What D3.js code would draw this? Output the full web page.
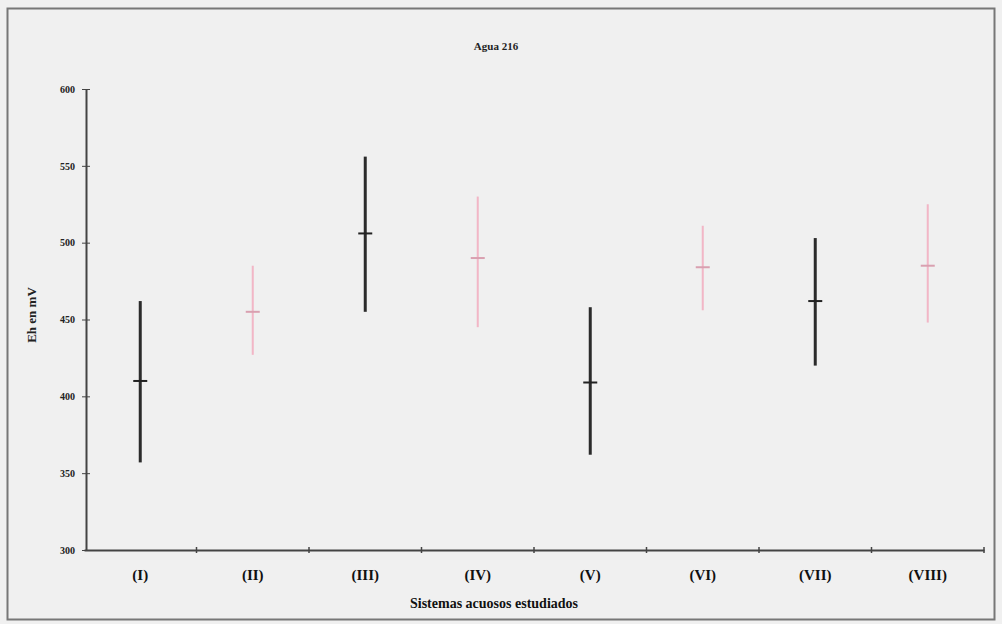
<!DOCTYPE html>
<html>
<head>
<meta charset="utf-8">
<script src="https://cdn.jsdelivr.net/npm/d3@7"></script>
<style>
  body { margin: 0; background: #f0f0f0; }
  svg text { font-family: "Liberation Serif", "DejaVu Serif", serif; }
</style>
</head>
<body>
<div id="content"></div>
<script>
// systems studied -> mean and range of Eh (mV)
var categories = ["(I)", "(II)", "(III)", "(IV)", "(V)", "(VI)", "(VII)", "(VIII)"];
var means = [410, 455, 506, 490, 409, 484, 462, 485];
var lows  = [357, 427, 455, 445, 362, 456, 420, 448];
var highs = [462, 485, 556, 530, 458, 511, 503, 525];
var series = ["a", "b", "a", "b", "a", "b", "a", "b"];
var yTicks = [300, 350, 400, 450, 500, 550, 600];

var titleText = "Agua 216";
var xTitle = "Sistemas acuosos estudiados";
var yTitle = "Eh en mV";

var W = 1002, H = 624;
var margin = {top: 89, right: 18, bottom: 74, left: 84};

var colors = {a: "#2b2b2b", b: "#f2b6c6"};
var widths = {a: 3, b: 2};

var data = categories.map(function(c, i) {
	return {cat: c, mean: means[i], low: lows[i], high: highs[i], s: series[i]};
});

var svg = d3.select("#content").append("svg")
	.attr("width", W).attr("height", H);

svg.append("rect")
	.attr("x", 0).attr("y", 0).attr("width", W).attr("height", H)
	.attr("fill", "#f0f0f0");

// outer frame
svg.append("rect")
	.attr("x", 7.5).attr("y", 8.5).attr("width", 987).attr("height", 611)
	.attr("fill", "none").attr("stroke", "#777").attr("stroke-width", 2);

var x = d3.scaleBand().domain(categories)
	.range([margin.left, W - margin.right]);
var y = d3.scaleLinear().domain([300, 600])
	.range([H - margin.bottom, margin.top]);

// y axis
var yAxis = d3.axisLeft(y).tickValues(yTicks).tickSize(4).tickSizeOuter(0)
	.tickFormat(d3.format("d"));
var gy = svg.append("g")
	.attr("transform", "translate(" + (margin.left + 2) + ",0)")
	.call(yAxis);
gy.select(".domain").attr("stroke", "#444").attr("stroke-width", 2);
gy.selectAll(".tick line").attr("stroke", "#444").attr("x2", 4).attr("x1", -4);
gy.selectAll(".tick text")
	.attr("x", -11)
	.style("font-size", "10px").style("font-weight", "bold").attr("fill", "#222");

// x axis
var xAxis = d3.axisBottom(x).tickSize(0).tickSizeOuter(0);
var gx = svg.append("g")
	.attr("transform", "translate(0," + (H - margin.bottom) + ")")
	.call(xAxis);
gx.select(".domain").attr("stroke", "#444").attr("stroke-width", 2);
gx.selectAll(".tick text")
	.attr("y", 19)
	.style("font-size", "15px").style("font-weight", "bold").attr("fill", "#111");

// separator marks between categories
svg.append("g").selectAll("line")
	.data(categories)
	.enter().append("line")
	.attr("x1", function(d) { return x(d) + x.bandwidth(); })
	.attr("x2", function(d) { return x(d) + x.bandwidth(); })
	.attr("y1", H - margin.bottom - 3)
	.attr("y2", H - margin.bottom + 3)
	.attr("stroke", "#444").attr("stroke-width", 1.5);

// error bars
var bars = svg.append("g").selectAll("g")
	.data(data)
	.enter().append("g");

bars.append("line")
	.attr("x1", function(d) { return x(d.cat) + x.bandwidth() / 2; })
	.attr("x2", function(d) { return x(d.cat) + x.bandwidth() / 2; })
	.attr("y1", function(d) { return y(d.high); })
	.attr("y2", function(d) { return y(d.low); })
	.attr("stroke", function(d) { return colors[d.s]; })
	.attr("stroke-width", function(d) { return widths[d.s]; });

bars.append("line")
	.attr("x1", function(d) { return x(d.cat) + x.bandwidth() / 2 - 7; })
	.attr("x2", function(d) { return x(d.cat) + x.bandwidth() / 2 + 7; })
	.attr("y1", function(d) { return y(d.mean); })
	.attr("y2", function(d) { return y(d.mean); })
	.attr("stroke", function(d) { return d.s == "a" ? "#222" : "#d9a0b0"; })
	.attr("stroke-width", 2);

// titles
svg.append("text")
	.attr("x", 496).attr("y", 50)
	.attr("text-anchor", "middle")
	.style("font-size", "11px").style("font-weight", "bold").attr("fill", "#222")
	.text(titleText);

svg.append("text")
	.attr("x", 494).attr("y", 608)
	.attr("text-anchor", "middle")
	.style("font-size", "14px").style("font-weight", "bold").attr("fill", "#111")
	.text(xTitle);

svg.append("text")
	.attr("transform", "translate(36,315) rotate(-90)")
	.attr("text-anchor", "middle")
	.style("font-size", "13px").style("font-weight", "bold").attr("fill", "#222")
	.text(yTitle);
</script>
</body>
</html>
